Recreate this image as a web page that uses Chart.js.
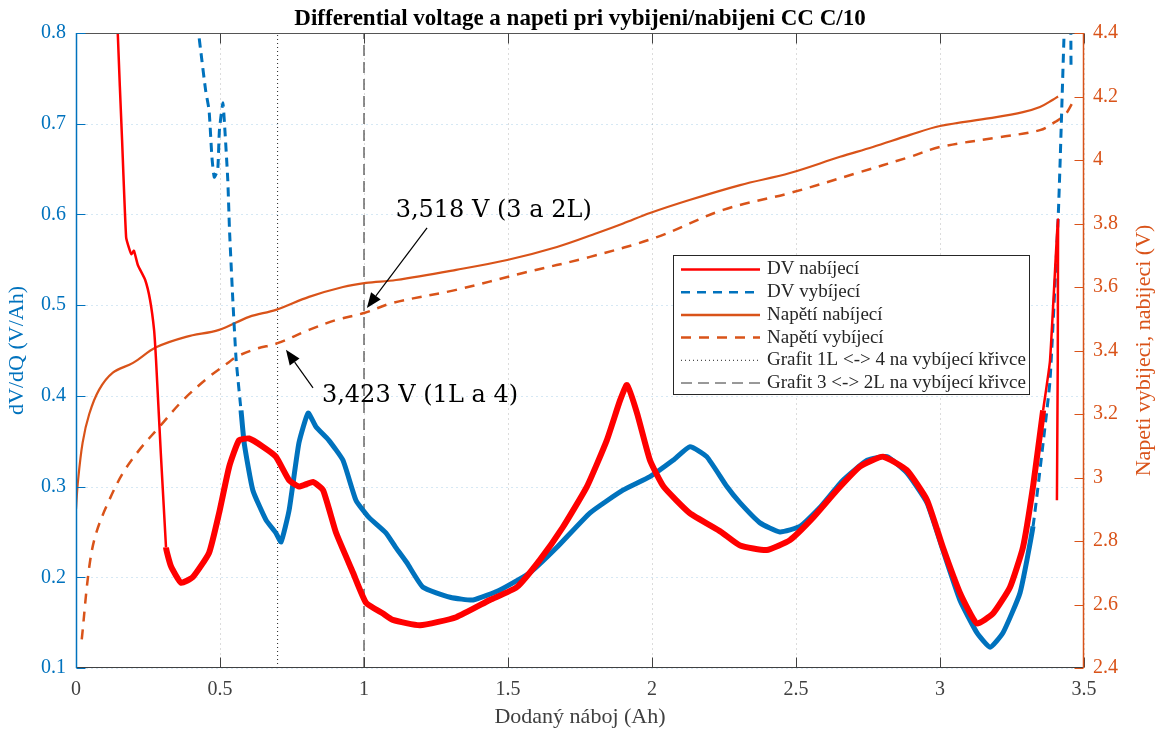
<!DOCTYPE html>
<html><head><meta charset="utf-8">
<script src="https://cdn.jsdelivr.net/npm/chart.js@4.4.1/dist/chart.umd.min.js"></script>
<style>html,body{margin:0;padding:0;background:#fff;}canvas{display:block;}</style>
</head><body>
<canvas id="c" width="1159" height="733"></canvas>
<script>
// ---------- DATA ----------
const titleText = 'Differential voltage a napeti pri vybijeni/nabijeni CC C/10';
const xTitle = 'Dodaný náboj (Ah)';
const yLeftTitle = 'dV/dQ (V/Ah)';
const yRightTitle = 'Napeti vybijeci, nabijeci (V)';

const xTicks = [0, 0.5, 1, 1.5, 2, 2.5, 3, 3.5];
const yLeftTicks = [0.1, 0.2, 0.3, 0.4, 0.5, 0.6, 0.7, 0.8];
const yRightTicks = [2.4, 2.6, 2.8, 3, 3.2, 3.4, 3.6, 3.8, 4, 4.2, 4.4];

const seriesLabels = ['DV nabíjecí', 'DV vybíjecí', 'Napětí nabíjecí', 'Napětí vybíjecí',
  'Grafit 1L <-> 4 na vybíjecí křivce', 'Grafit 3 <-> 2L na vybíjecí křivce'];

// DV nabíjecí (charge differential voltage), V/Ah
const dvChargeX = [0.140,0.145,0.160,0.174,0.185,0.193,0.201,0.215,0.240,0.257,0.271,0.278,0.3125,0.33,0.365,0.405,0.462,0.497,0.532,0.566,0.601,0.649,0.694,0.740,0.774,0.823,0.858,0.903,0.962,1.007,1.066,1.10,1.194,1.32,1.437,1.53,1.61,1.69,1.774,1.843,1.889,1.913,1.948,1.993,2.04,2.13,2.24,2.306,2.398,2.479,2.56,2.642,2.722,2.802,2.885,2.955,3.01,3.069,3.128,3.184,3.243,3.288,3.323,3.358,3.382,3.41,3.406];
const dvChargeY = [0.90,0.80,0.682,0.575,0.562,0.556,0.560,0.544,0.528,0.506,0.473,0.439,0.233,0.212,0.194,0.200,0.227,0.271,0.322,0.351,0.353,0.344,0.333,0.307,0.300,0.305,0.296,0.249,0.205,0.172,0.160,0.153,0.147,0.156,0.175,0.189,0.219,0.255,0.300,0.351,0.395,0.412,0.381,0.329,0.300,0.271,0.250,0.235,0.230,0.241,0.266,0.296,0.322,0.333,0.318,0.285,0.233,0.183,0.149,0.160,0.189,0.233,0.300,0.384,0.439,0.594,0.285];

// DV vybíjecí (discharge differential voltage), V/Ah
const dvDischargeX = [0.420,0.426,0.434,0.45,0.462,0.472,0.48,0.492,0.498,0.51,0.517,0.527,0.533,0.544,0.556,0.573,0.584,0.614,0.66,0.694,0.712,0.74,0.774,0.806,0.833,0.878,0.927,0.972,1.017,1.076,1.11,1.149,1.205,1.299,1.379,1.472,1.576,1.67,1.785,1.899,1.993,2.073,2.132,2.19,2.26,2.306,2.375,2.444,2.514,2.583,2.663,2.747,2.816,2.885,2.955,3.01,3.069,3.128,3.174,3.219,3.278,3.323,3.358,3.382,3.41,3.417,3.424,3.431,3.44,3.452,3.455];
const dvDischargeY = [0.86,0.80,0.778,0.737,0.715,0.663,0.641,0.649,0.693,0.723,0.693,0.638,0.583,0.509,0.44,0.384,0.348,0.296,0.263,0.249,0.239,0.274,0.348,0.381,0.366,0.351,0.329,0.285,0.266,0.249,0.233,0.216,0.189,0.178,0.175,0.186,0.205,0.233,0.271,0.296,0.311,0.329,0.344,0.333,0.300,0.282,0.260,0.250,0.256,0.277,0.307,0.329,0.333,0.315,0.282,0.230,0.175,0.139,0.123,0.139,0.183,0.256,0.348,0.417,0.594,0.657,0.729,0.80,0.86,0.86,0.759];

// Napětí nabíjecí (charge voltage), V
const vChargeX = [0.0,0.006,0.023,0.046,0.08,0.128,0.198,0.278,0.382,0.497,0.601,0.694,0.809,0.927,1.007,1.111,1.32,1.497,1.67,1.81,1.90,1.993,2.13,2.306,2.479,2.653,2.767,2.896,3.0,3.174,3.288,3.347,3.392,3.41];
const vChargeY = [2.90,2.98,3.11,3.20,3.276,3.33,3.361,3.41,3.443,3.465,3.506,3.528,3.569,3.60,3.613,3.622,3.654,3.685,3.726,3.77,3.80,3.833,3.874,3.921,3.959,4.01,4.041,4.079,4.107,4.132,4.151,4.167,4.19,4.20];

// Napětí vybíjecí (discharge voltage), V
const vDischargeX = [0.02,0.046,0.07,0.116,0.163,0.22,0.29,0.372,0.462,0.532,0.556,0.625,0.70,0.809,0.903,1.0,1.1,1.32,1.552,1.785,2.017,2.247,2.479,2.712,2.896,3.0,3.208,3.347,3.4,3.434,3.46];
const vDischargeY = [2.49,2.718,2.825,2.93,3.014,3.087,3.16,3.244,3.317,3.364,3.38,3.405,3.423,3.465,3.496,3.518,3.55,3.591,3.644,3.695,3.757,3.843,3.896,3.959,4.01,4.041,4.072,4.094,4.12,4.142,4.18];

// Graphite stage transition markers (x in Ah)
const marker1LX = 0.7;
const marker3X = 1.0;

// Annotations
const annotTexts = ['3,518 V (3 a 2L)', '3,423 V (1L a 4)'];
const annotTextX = [1.110, 0.854];
const annotTextV = [3.820, 3.238];
const annotTailX = [1.219, 0.823];
const annotTailV = [3.786, 3.282];
const annotTipX = [1.010, 0.729];
const annotTipV = [3.534, 3.402];

// ---------- CHART ----------
const zip = (xs, ys) => xs.map((v, i) => ({x: v, y: ys[i]}));
const FONT = '"Liberation Serif", "Times New Roman", serif';
const BLUE = '#0072BD', ORANGE = '#D95319', RED = '#FF0000', AX = '#404040';

const dvEdge = (x) => x < 0.285 || x > 3.33;
const dvDischEdge = (x) => x < 0.56 || x > 3.30;

const datasets = [
  {label: seriesLabels[0], data: zip(dvChargeX, dvChargeY), yAxisID: 'y', borderColor: RED, borderWidth: 6, tension: 0.15,
   segment: {borderWidth: c => dvEdge(c.p0.parsed.x) ? 2.5 : 6}},
  {label: seriesLabels[1], data: zip(dvDischargeX, dvDischargeY), yAxisID: 'y', borderColor: BLUE, borderWidth: 5, tension: 0.15,
   legendDash: [9, 7],
   segment: {borderWidth: c => dvDischEdge(c.p0.parsed.x) ? 3 : 5,
             borderDash: c => dvDischEdge(c.p0.parsed.x) ? [9, 6] : []}},
  {label: seriesLabels[2], data: zip(vChargeX, vChargeY), yAxisID: 'y2', borderColor: ORANGE, borderWidth: 2.2, tension: 0.35},
  {label: seriesLabels[3], data: zip(vDischargeX, vDischargeY), yAxisID: 'y2', borderColor: ORANGE, borderWidth: 2.5, tension: 0.35, borderDash: [10, 8]},
  {label: seriesLabels[4], data: [{x: marker1LX, y: 0.1}, {x: marker1LX, y: 0.8}], yAxisID: 'y', borderColor: '#222', borderWidth: 1, borderDash: [1, 3]},
  {label: seriesLabels[5], data: [{x: marker3X, y: 0.1}, {x: marker3X, y: 0.8}], yAxisID: 'y', borderColor: '#333', borderWidth: 1.1, borderDash: [11, 6]}
];
datasets.forEach(d => { d.pointRadius = 0; d.fill = false; d.backgroundColor = d.borderColor; });

const tickFont = {family: FONT, size: 20};
const fmt = v => String(Math.round(v * 100) / 100);

const deco = {
  id: 'deco',
  beforeDatasetsDraw(chart) {
    const {ctx, chartArea: a, scales: {x, y}} = chart;
    ctx.save();
    ctx.lineWidth = 1;
    ctx.setLineDash([2, 3]);
    ctx.strokeStyle = 'rgba(38,38,38,0.16)';
    xTicks.forEach(v => { const p = Math.round(x.getPixelForValue(v)) + 0.5; ctx.beginPath(); ctx.moveTo(p, a.top); ctx.lineTo(p, a.bottom); ctx.stroke(); });
    ctx.strokeStyle = 'rgba(0,114,189,0.16)';
    yLeftTicks.forEach(v => { const p = Math.round(y.getPixelForValue(v)) + 0.5; ctx.beginPath(); ctx.moveTo(a.left, p); ctx.lineTo(a.right, p); ctx.stroke(); });
    ctx.restore();
  },
  afterDatasetsDraw(chart) {
    const {ctx, chartArea: a, scales: {x, y, y2}} = chart;
    ctx.save();
    ctx.setLineDash([]);
    ctx.lineWidth = 1;
    const L = Math.round(a.left) + 0.5, R = Math.round(a.right) - 0.5, T = Math.round(a.top) + 0.5, B = Math.round(a.bottom) - 0.5;
    ctx.strokeStyle = '#555';
    ctx.beginPath(); ctx.moveTo(L, T); ctx.lineTo(R, T); ctx.stroke();
    ctx.strokeStyle = AX;
    ctx.beginPath(); ctx.moveTo(L, B); ctx.lineTo(R, B); ctx.stroke();
    xTicks.forEach(v => { const p = Math.round(x.getPixelForValue(v)) + 0.5;
      ctx.beginPath(); ctx.moveTo(p, B); ctx.lineTo(p, B - 10); ctx.moveTo(p, T); ctx.lineTo(p, T + 10); ctx.stroke(); });
    ctx.strokeStyle = BLUE; ctx.lineWidth = 1.5;
    ctx.beginPath(); ctx.moveTo(L, a.top); ctx.lineTo(L, a.bottom); ctx.stroke();
    ctx.lineWidth = 1;
    yLeftTicks.forEach(v => { const p = Math.round(y.getPixelForValue(v)) + 0.5; ctx.beginPath(); ctx.moveTo(L, p); ctx.lineTo(L + 9, p); ctx.stroke(); });
    ctx.strokeStyle = ORANGE; ctx.lineWidth = 1.5;
    ctx.beginPath(); ctx.moveTo(R, a.top); ctx.lineTo(R, a.bottom); ctx.stroke();
    ctx.lineWidth = 1;
    yRightTicks.forEach(v => { const p = Math.round(y2.getPixelForValue(v)) + 0.5; ctx.beginPath(); ctx.moveTo(R, p); ctx.lineTo(R - 9, p); ctx.stroke(); });
    ctx.restore();
  },
  afterDraw(chart) {
    const {ctx, chartArea: a, scales: {x, y2}} = chart;
    const cx = (a.left + a.right) / 2, cy = (a.top + a.bottom) / 2;
    ctx.save();
    ctx.fillStyle = '#000';
    ctx.font = 'bold 23px ' + FONT;
    ctx.textAlign = 'center'; ctx.textBaseline = 'alphabetic';
    ctx.fillText(titleText, cx, 25);
    ctx.font = '22px ' + FONT;
    ctx.fillStyle = AX;
    ctx.textBaseline = 'middle';
    ctx.fillText(xTitle, cx, 717);
    ctx.save(); ctx.translate(17, cy); ctx.rotate(-Math.PI / 2); ctx.fillStyle = BLUE; ctx.fillText(yLeftTitle, 0, 0); ctx.restore();
    ctx.save(); ctx.translate(1144, cy); ctx.rotate(-Math.PI / 2); ctx.fillStyle = ORANGE; ctx.fillText(yRightTitle, 0, 0); ctx.restore();
    ctx.fillStyle = '#000'; ctx.strokeStyle = '#000'; ctx.lineWidth = 1.2;
    ctx.font = '24px "DejaVu Serif", serif';
    ctx.textAlign = 'left'; ctx.textBaseline = 'alphabetic';
    annotTexts.forEach((t, i) => {
      ctx.fillText(t, x.getPixelForValue(annotTextX[i]), y2.getPixelForValue(annotTextV[i]));
      const x0 = x.getPixelForValue(annotTailX[i]), y0 = y2.getPixelForValue(annotTailV[i]);
      const x1 = x.getPixelForValue(annotTipX[i]), y1 = y2.getPixelForValue(annotTipV[i]);
      const ang = Math.atan2(y1 - y0, x1 - x0), hl = 15, hw = 6;
      const bx = x1 - hl * Math.cos(ang), by = y1 - hl * Math.sin(ang);
      ctx.beginPath(); ctx.moveTo(x0, y0); ctx.lineTo(bx, by); ctx.stroke();
      ctx.beginPath(); ctx.moveTo(x1, y1);
      ctx.lineTo(bx + hw * Math.sin(ang), by - hw * Math.cos(ang));
      ctx.lineTo(bx - hw * Math.sin(ang), by + hw * Math.cos(ang));
      ctx.closePath(); ctx.fill();
    });
    const lx = 673.5, ly = 255.5, lw = 356, lh = 139;
    ctx.fillStyle = '#fff'; ctx.fillRect(lx, ly, lw, lh);
    ctx.strokeStyle = '#262626'; ctx.lineWidth = 1; ctx.setLineDash([]);
    ctx.strokeRect(lx, ly, lw, lh);
    ctx.font = '19px ' + FONT; ctx.textBaseline = 'middle';
    chart.data.datasets.forEach((d, i) => {
      const yy = ly + 14 + i * 22.7;
      ctx.save();
      ctx.strokeStyle = d.borderColor;
      ctx.lineWidth = i < 4 ? 2.5 : 1;
      ctx.setLineDash(d.legendDash || d.borderDash || []);
      ctx.beginPath(); ctx.moveTo(681, yy); ctx.lineTo(760, yy); ctx.stroke();
      ctx.restore();
      ctx.fillStyle = '#262626';
      ctx.fillText(d.label, 767, yy);
    });
    ctx.restore();
  }
};

new Chart(document.getElementById('c'), {
  type: 'line',
  data: {datasets},
  options: {
    responsive: false, animation: false, devicePixelRatio: 1,
    layout: {padding: {top: 33, left: 0, right: 0, bottom: 0}},
    plugins: {legend: {display: false}, title: {display: false}, tooltip: {enabled: false}},
    scales: {
      x: {type: 'linear', min: 0, max: 3.5,
          afterBuildTicks: s => { s.ticks = xTicks.map(v => ({value: v})); },
          afterFit: s => { s.height = 65; },
          ticks: {padding: 10, color: AX, font: tickFont, maxRotation: 0, autoSkip: false, callback: fmt},
          grid: {display: false, drawTicks: false}, border: {display: false}},
      y: {type: 'linear', position: 'left', min: 0.1, max: 0.8,
          afterBuildTicks: s => { s.ticks = yLeftTicks.map(v => ({value: v})); },
          afterFit: s => { s.width = 76; },
          ticks: {padding: 10, color: BLUE, font: tickFont, autoSkip: false, callback: fmt},
          grid: {display: false, drawTicks: false}, border: {display: false}},
      y2: {type: 'linear', position: 'right', min: 2.4, max: 4.4,
          afterBuildTicks: s => { s.ticks = yRightTicks.map(v => ({value: v})); },
          afterFit: s => { s.width = 75; },
          ticks: {padding: 9, color: ORANGE, font: tickFont, autoSkip: false, callback: fmt},
          grid: {display: false, drawTicks: false}, border: {display: false}}
    }
  },
  plugins: [deco]
});
</script>
</body></html>
